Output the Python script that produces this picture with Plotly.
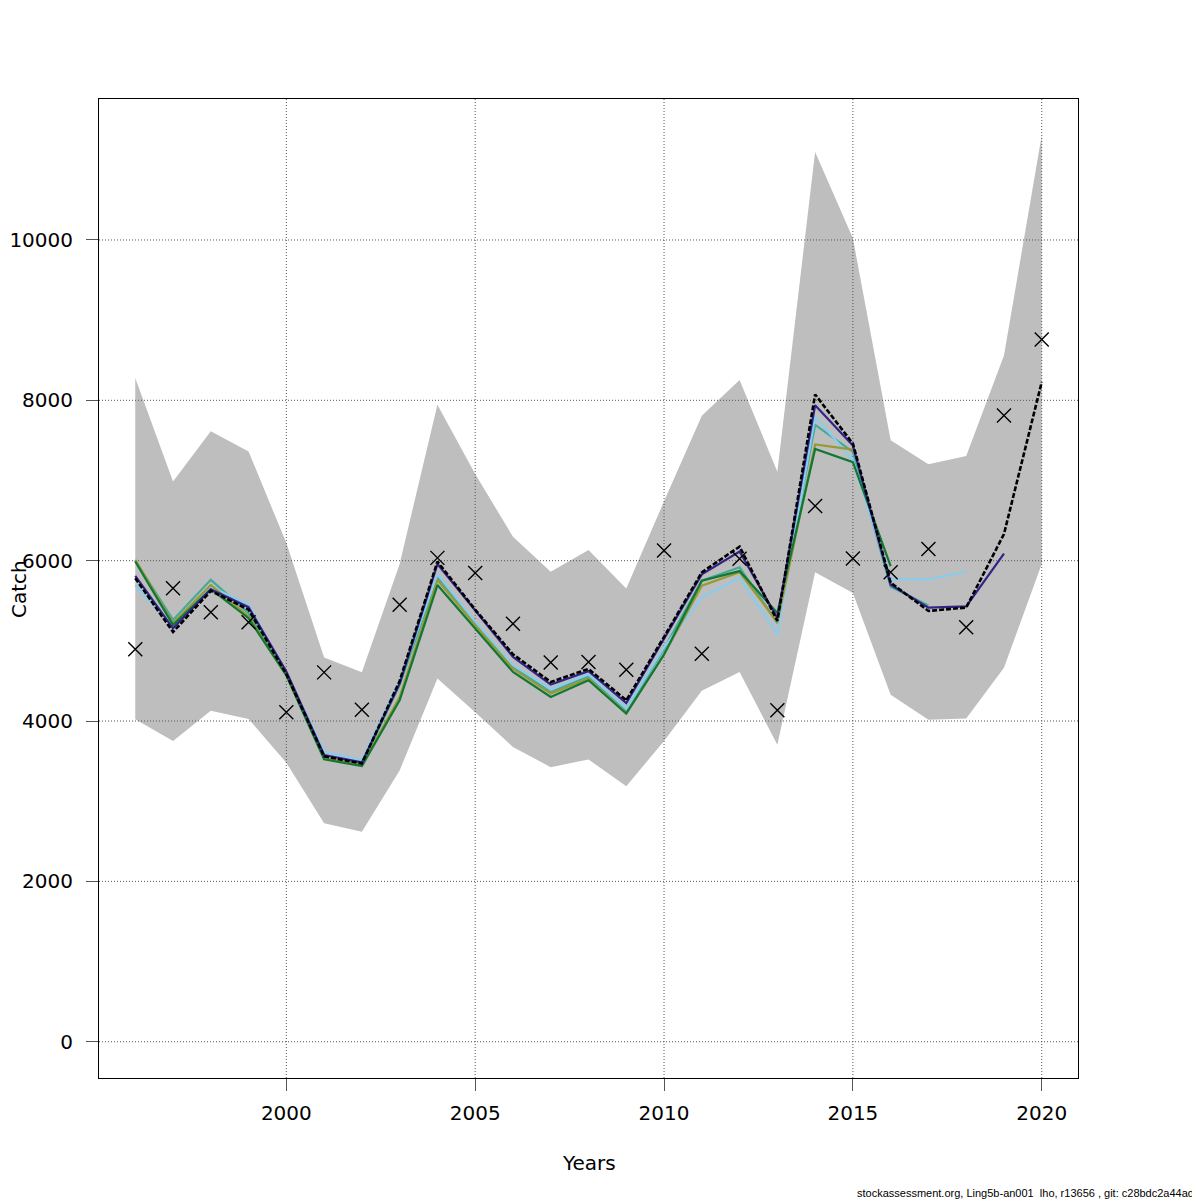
import plotly.graph_objects as go

years = list(range(1996, 2021))

# observed catch (crosses)
observed = [4894, 5655, 5356, 5231, 4110, 4607, 4140, 5450, 6035, 5846, 5214, 4730,
            4735, 4640, 6128, 4838, 6025, 4134, 6682, 6028, 5855, 6146, 5170, 7810, 8760]

# confidence band of the base run
band_upper = [8279, 6989, 7613, 7363, 6219, 4791, 4608, 5960, 7946, 7080, 6300, 5862,
              6133, 5654, 6740, 7808, 8254, 7109, 11098, 10020, 7503, 7202, 7306, 8560, 11306]
band_lower = [4021, 3751, 4129, 4025, 3480, 2725, 2620, 3383, 4529, 4110, 3675, 3425,
              3521, 3188, 3750, 4378, 4612, 3705, 5855, 5596, 4327, 4016, 4031, 4664, 5959]

# base run and retrospective peels
base = [5782, 5110, 5623, 5390, 4585, 3560, 3470, 4500, 5988, 5390, 4833, 4487,
        4650, 4258, 5050, 5855, 6176, 5250, 8073, 7461, 5726, 5373, 5415, 6332, 8228]
peel1 = [5811, 5157, 5644, 5420, 4617, 3576, 3484, 4467, 5958, 5380, 4800, 4454,
         4621, 4225, 5020, 5829, 6114, 5285, 7938, 7435, 5700, 5415, 5430, 6088]
peel2 = [5698, 5178, 5677, 5449, 4590, 3618, 3513, 4508, 5829, 5240, 4696, 4400,
         4580, 4154, 4920, 5544, 5788, 5078, 7798, 7254, 5767, 5767, 5865]
peel3 = [6000, 5261, 5761, 5345, 4575, 3540, 3460, 4450, 5800, 5230, 4680, 4360,
         4560, 4130, 4900, 5750, 5917, 5220, 7694, 7358, 5674, 5441]
peel4 = [5990, 5199, 5644, 5282, 4570, 3522, 3438, 4258, 5696, 5154, 4613, 4300,
         4508, 4092, 4830, 5751, 5870, 5348, 7394, 7228, 5933]
peel5 = [6010, 5220, 5698, 5303, 4575, 3540, 3450, 4300, 5758, 5196, 4654, 4342,
         4529, 4100, 4830, 5689, 5855, 5233, 7450, 7384]

x_ticks = [2000, 2005, 2010, 2015, 2020]
y_ticks = [0, 2000, 4000, 6000, 8000, 10000]

# R style 4% axis extension
x_span = years[-1] - years[0]
x_range = [years[0] - 0.04 * x_span, years[-1] + 0.04 * x_span]
y_lo, y_hi = 0, max(band_upper)
y_range = [y_lo - 0.04 * (y_hi - y_lo), y_hi + 0.04 * (y_hi - y_lo)]

fig = go.Figure()

# band
fig.add_trace(go.Scatter(x=years + years[::-1], y=band_upper + band_lower[::-1],
                         fill="toself", fillcolor="#BEBEBE", mode="lines",
                         line=dict(width=0), hoverinfo="skip", showlegend=False))

# dotted grid on top of the band
gx, gy = [], []
for t in x_ticks:
    gx += [t, t, None]
    gy += [y_range[0], y_range[1], None]
for t in y_ticks:
    gx += [x_range[0], x_range[1], None]
    gy += [t, t, None]
fig.add_trace(go.Scatter(x=gx, y=gy, mode="lines", hoverinfo="skip", showlegend=False,
                         line=dict(color="#555555", width=1, dash="1px,2px")))

peels = [(peel3, "#44AA99"), (peel2, "#88CCEE"), (peel5, "#999933"),
         (peel4, "#117733"), (peel1, "#332288")]
for vals, col in peels:
    fig.add_trace(go.Scatter(x=years[:len(vals)], y=vals, mode="lines",
                             line=dict(color=col, width=2.2), showlegend=False))

fig.add_trace(go.Scatter(x=years, y=base, mode="lines", showlegend=False,
                         line=dict(color="black", width=2.6, dash="5px,2px")))

fig.add_trace(go.Scatter(x=years, y=observed, mode="markers", showlegend=False,
                         marker=dict(symbol="x-thin-open", size=14, color="black",
                                     line=dict(color="black", width=1.4))))

axis_common = dict(showgrid=False, zeroline=False, showline=True, mirror=True,
                   linecolor="black", linewidth=1, ticks="outside", ticklen=12,
                   tickcolor="#555555", tickwidth=1,
                   tickfont=dict(family="DejaVu Sans", size=20, color="black"))

fig.update_xaxes(range=x_range, tickvals=x_ticks, tickformat="d",
                 ticklabelstandoff=5, **axis_common)
fig.update_yaxes(range=y_range, tickvals=y_ticks, tickformat="d",
                 ticklabelstandoff=9, **axis_common)

# page sits ~7px in from the window corner, so work in shifted pixels
W = H = 1192
off = 7
left, top, right, bottom = 98 - off, 98 - off, 1077 - off, 1077 - off
pw, ph = right - left, bottom - top


def px_x(x):
    return (x - off - left) / pw


def px_y(y):
    return (bottom - (y - off)) / ph


fig.add_annotation(text="Catch", x=px_x(18), y=px_y(588), xref="paper", yref="paper",
                   showarrow=False, textangle=-90, xanchor="center", yanchor="middle",
                   borderpad=0, font=dict(family="DejaVu Sans", size=20, color="black"))
fig.add_annotation(text="Years", x=px_x(588), y=px_y(1162), xref="paper", yref="paper",
                   showarrow=False, xanchor="center", yanchor="middle",
                   font=dict(family="DejaVu Sans", size=20, color="black"))
fig.add_annotation(text="stockassessment.org, Ling5b-an001  lho, r13656 , git: c28bdc2a44ad",
                   x=px_x(1195), y=px_y(1192), xref="paper", yref="paper", showarrow=False,
                   xanchor="right", yanchor="middle",
                   font=dict(family="Liberation Sans", size=11, color="black"))

fig.update_layout(width=W, height=H, plot_bgcolor="white", paper_bgcolor="white",
                  margin=dict(l=left, r=W - right, t=top, b=H - bottom, autoexpand=False),
                  showlegend=False)

fig.write_html("out.html")
